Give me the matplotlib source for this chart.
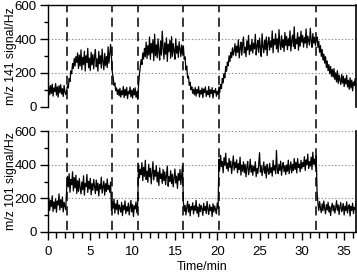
import numpy as np
import matplotlib
matplotlib.use("Agg")
import matplotlib.pyplot as plt
from matplotlib.ticker import MultipleLocator

plt.rcParams['font.family'] = ['Liberation Sans', 'DejaVu Sans']

dt_min = 0.1
event_times = [2.2, 7.55, 10.65, 16.0, 20.2, 31.7]
ylabels = ["m/z 141 signal/Hz", "m/z 101 signal/Hz"]
xlabel = "Time/min"

signal_141 = [
    150,118,72,126,80,134,64,112,91,138,70,119,58,125,84,131,76,108,62,127,88,73,
    96,125,112,168,150,212,196,255,228,286,241,297,262,
    318,226,305,241,336,219,292,250,328,212,301,262,345,230,287,215,322,248,309,224,
    296,338,237,284,211,327,255,302,228,341,266,219,315,243,297,232,354,258,312,368,
    296,205,176,128,141,96,112,74,102,66,
    110,58,96,72,121,55,104,68,115,49,92,77,118,60,99,52,108,71,113,57,90,46,
    128,190,232,278,250,318,282,345,296,
    382,285,361,306,412,280,374,318,395,272,428,301,366,289,401,327,276,389,305,446,
    352,281,378,310,407,268,369,325,392,287,414,298,373,330,281,401,316,359,292,384,
    338,297,365,312,
    360,280,295,218,240,170,182,128,146,102,118,80,104,
    72,115,64,103,81,120,59,98,76,112,55,106,85,118,62,95,73,121,58,101,
    79,114,52,97,84,109,63,92,75,
    118,86,132,110,168,141,195,172,238,210,265,242,301,268,322,290,348,305,331,
    372,301,358,322,395,289,346,381,305,367,412,318,352,296,389,335,421,308,364,330,
    398,317,376,342,428,306,359,391,321,405,347,298,431,356,319,394,337,412,302,378,
    410,335,389,352,447,319,398,366,431,342,401,322,455,374,338,419,351,396,327,438,
    362,415,337,402,361,448,329,391,423,356,472,343,399,371,437,334,412,358,446,381,
    421,352,408,376,459,348,417,392,364,463,388,351,432,376,410,362,398,
    412,351,387,322,361,298,338,276,311,258,
    296,232,271,214,249,196,238,181,221,175,
    226,162,201,148,214,139,187,158,132,191,
    141,182,120,168,135,186,118,157,104,172,
    112,158,95,147,126,168,101,139,88,152,118,
]

signal_101 = [
    142,201,128,188,151,215,122,179,138,196,117,184,160,226,131,192,145,208,119,177,153,132,
    252,331,268,346,236,312,281,358,244,323,262,337,229,
    305,241,318,262,226,297,251,334,219,288,270,342,235,301,256,319,221,287,248,312,
    273,228,309,246,291,214,283,255,326,231,268,302,219,287,241,315,253,277,236,296,
    128,182,141,196,112,167,134,189,105,161,
    143,118,176,97,158,132,185,109,151,124,
    172,101,146,188,119,163,92,155,137,179,114,168,
    398,322,372,341,412,305,384,331,426,312,
    361,295,402,328,378,286,352,417,309,366,
    331,394,297,356,276,381,318,345,289,372,
    304,358,281,336,392,272,329,301,364,287,
    343,268,318,374,291,332,259,347,306,371,282,338,395,
    178,124,159,101,146,182,118,163,96,151,
    132,174,107,155,129,188,112,149,91,166,
    121,158,136,99,171,128,152,110,181,134,
    104,162,127,147,92,168,119,155,133,108,172,139,
    432,371,455,389,418,352,441,396,468,378,
    409,362,437,384,421,347,396,452,368,415,
    381,429,352,406,372,445,338,398,361,417,
    352,401,328,386,419,341,372,432,355,396,
    337,391,362,418,329,377,348,403,471,356,
    394,335,372,416,349,389,321,402,367,343,
    408,353,382,332,426,367,395,346,485,371,
    348,402,366,421,337,389,412,358,394,342,
    398,361,427,346,384,417,352,401,365,436,
    372,414,351,436,384,403,358,426,377,412,
    389,447,366,428,401,463,378,418,392,445,371,474,403,432,388,452,
    236,172,128,181,142,115,168,127,184,139,
    108,163,131,177,119,152,98,146,171,125,
    158,112,143,186,129,161,104,149,175,121,
    137,168,101,154,126,179,113,147,162,95,
    152,128,171,109,146,135,183,117,158,131,149,
]

W, H = 357, 273
fig = plt.figure(figsize=(W/100, H/100), dpi=100)

def fx(px): return px / W
def fy(py): return 1 - py / H

L, R = 48, 356
ax1 = fig.add_axes([fx(L), fy(107), fx(R) - fx(L), fy(5) - fy(107)])
ax2 = fig.add_axes([fx(L), fy(232), fx(R) - fx(L), fy(131) - fy(232)])

series = [signal_141, signal_101]
for ax, s, lab in zip([ax1, ax2], series, ylabels):
    t = np.arange(len(s)) * dt_min
    ax.plot(t, s, color='black', lw=0.9, zorder=3)
    ax.set_xlim(0, 36.4)
    ax.set_ylim(0, 600)
    for yv in [0, 200, 400, 600]:
        ax.axhline(yv, color='#8c8c8c', lw=0.8, ls=(0, (1.2, 1.8)), zorder=1)
    ax.yaxis.set_major_locator(MultipleLocator(200))
    ax.yaxis.set_minor_locator(MultipleLocator(100))
    ax.tick_params(axis='y', which='major', direction='out', length=6, width=1,
                   labelsize=9.5, pad=2)
    ax.tick_params(axis='y', which='minor', direction='out', length=3, width=1)
    ax.set_ylabel(lab, fontsize=8.8)
    ax.yaxis.set_label_coords((17 - L) / (R - L), 0.5)
    ax.spines['left'].set_linewidth(1.0)
    ax.spines['right'].set_linewidth(1.2)
    ax.patch.set_alpha(0)

ax1.spines['bottom'].set_visible(False)
ax1.spines['top'].set_linewidth(1.0)
ax1.tick_params(axis='x', which='both', bottom=False, labelbottom=False)

ax2.spines['top'].set_visible(False)
ax2.spines['bottom'].set_linewidth(1.0)
ax2.xaxis.set_major_locator(MultipleLocator(5))
ax2.xaxis.set_minor_locator(MultipleLocator(1))
ax2.tick_params(axis='x', which='major', direction='out', length=6, width=1,
                labelsize=9.5, pad=4)
ax2.tick_params(axis='x', which='minor', direction='out', length=4, width=1)
ax2.set_xlabel(xlabel, fontsize=9, labelpad=2)

span_top = (232 - 5) / (232 - 131)
for xe in event_times:
    ax2.axvline(xe, ymin=0.02, ymax=span_top, color='black', lw=1.1,
                ls=(0, (6, 3.5)), clip_on=False, zorder=4)

fig.savefig("out.png", dpi=100)
